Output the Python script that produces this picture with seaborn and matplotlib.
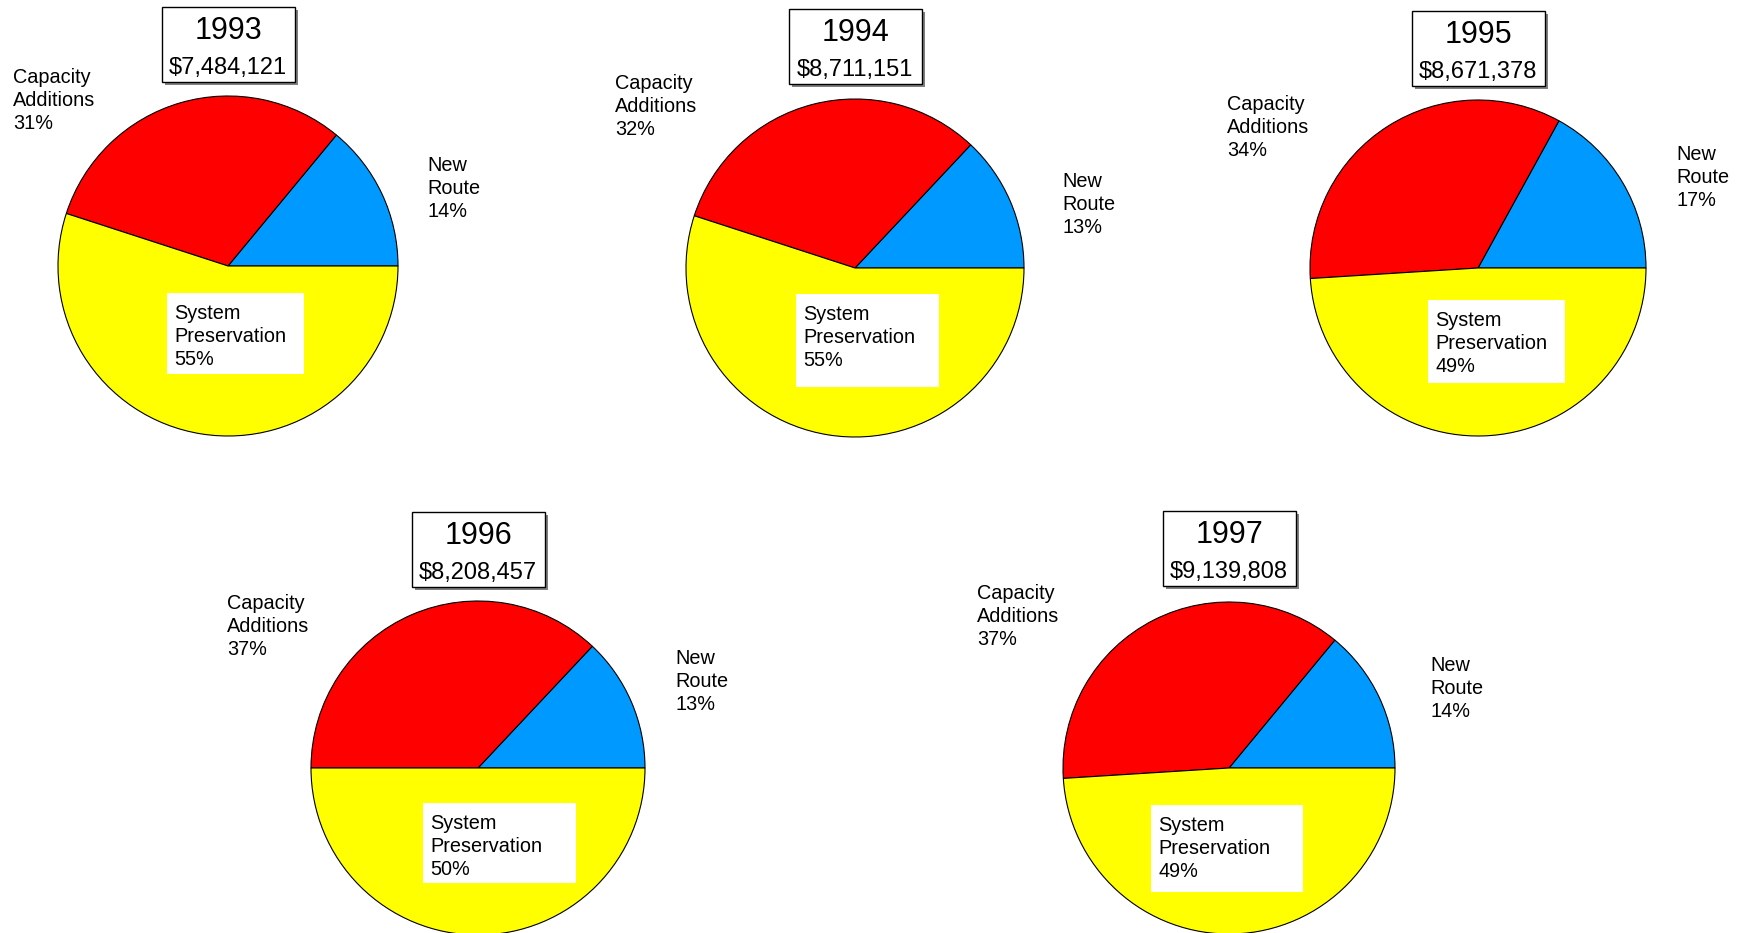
import matplotlib
matplotlib.use("Agg")
import matplotlib.pyplot as plt
import seaborn as sns
from matplotlib.patches import Rectangle

# budget split by year (percent of total)
years = ["1993", "1994", "1995", "1996", "1997"]
totals = ["$7,484,121", "$8,711,151", "$8,671,378", "$8,208,457", "$9,139,808"]
new_route = [14, 13, 17, 13, 14]
capacity = [31, 32, 34, 37, 37]
preservation = [55, 55, 49, 50, 49]

colors = ["#0099FF", "#FF0000", "#FFFF00"]  # new route, capacity, preservation

# layout in canvas pixels (x to the right, y downwards)
W, H = 1742, 933
pie_center = [(228, 266), (855, 268), (1478, 268), (478, 768), (1229, 768)]
pie_radius = [170, 169, 168, 167, 166]
cap_pos = [(13, 83), (615, 89), (1227, 110), (227, 609), (977, 599)]
new_pos = [(427, 171), (1062, 187), (1676, 160), (675, 664), (1430, 671)]
sys_box = [(167, 293, 304, 374), (796, 294, 939, 387), (1428, 300, 1565, 383),
           (423, 803, 576, 883), (1151, 805, 1303, 892)]
title_top = [7, 9, 11, 512, 511]

sns.set_theme(style="white")
plt.rcParams["font.family"] = ["Liberation Sans", "DejaVu Sans"]
plt.rcParams["text.color"] = "black"

LABEL_FS = 14.3
LINE_GAP = 22.8


def put_lines(ax, x, y, lines, fs=LABEL_FS, ha="left"):
    for i, line in enumerate(lines):
        ax.text(x, y + i * LINE_GAP, line, fontsize=fs, ha=ha, va="baseline",
                color="black", zorder=5)


fig = plt.figure(figsize=(W / 100, H / 100), dpi=100)
ax = fig.add_axes([0, 0, 1, 1])

for i in range(len(years)):
    cx, cy = pie_center[i]
    ax.pie([new_route[i], capacity[i], preservation[i]], colors=colors,
           center=(cx, cy), radius=pie_radius[i], startangle=0,
           counterclock=False,  # y axis is flipped below
           wedgeprops=dict(edgecolor="black", linewidth=0.8))

    # title box with drop shadow
    bw, bh = 133, 75
    top = title_top[i]
    ax.add_patch(Rectangle((cx - bw / 2 + 3, top + 3), bw, bh,
                           facecolor="#808080", edgecolor="none", zorder=3))
    ax.add_patch(Rectangle((cx - bw / 2, top), bw, bh, facecolor="white",
                           edgecolor="black", linewidth=1.0, zorder=4))
    ax.text(cx, top + 32, years[i], fontsize=22, ha="center", va="baseline",
            color="black", zorder=5)
    ax.text(cx, top + 67, totals[i], fontsize=17, ha="center", va="baseline",
            color="black", zorder=5)

    # slice labels
    x, y = cap_pos[i]
    put_lines(ax, x, y, ["Capacity", "Additions", f"{capacity[i]}%"])
    x, y = new_pos[i]
    put_lines(ax, x, y, ["New", "Route", f"{new_route[i]}%"])
    x0, y0, x1, y1 = sys_box[i]
    ax.add_patch(Rectangle((x0, y0), x1 - x0, y1 - y0, facecolor="white",
                           edgecolor="none", zorder=4))
    put_lines(ax, x0 + 7, y0 + 26, ["System", "Preservation", f"{preservation[i]}%"])

ax.set_aspect("auto")
ax.set_xlim(0, W)
ax.set_ylim(H, 0)
ax.axis("off")

fig.savefig("out.png", dpi=100, facecolor="white")
